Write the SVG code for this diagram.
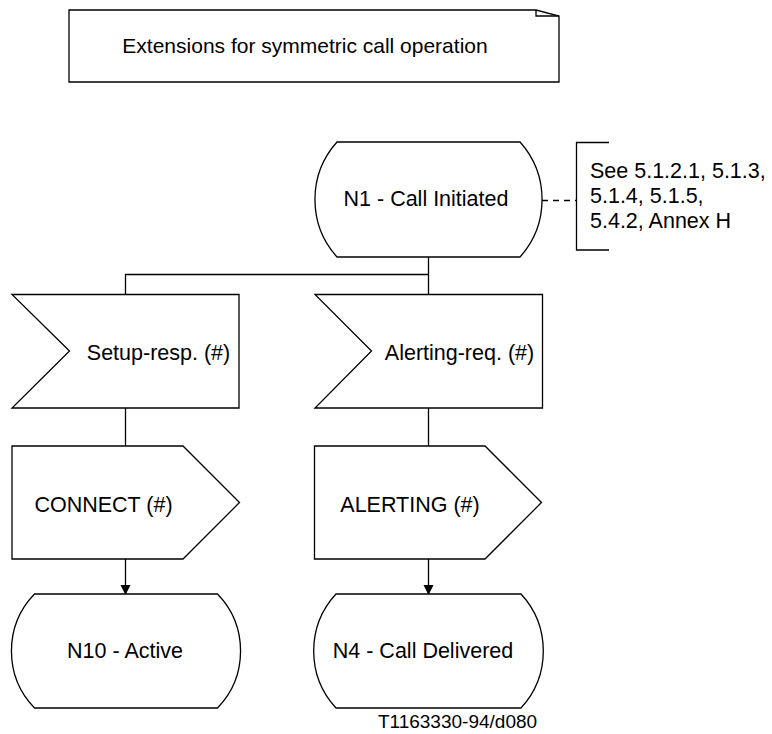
<svg xmlns="http://www.w3.org/2000/svg" width="772" height="734" viewBox="0 0 772 734">
<style>
.s{fill:#fff;stroke:#000;stroke-width:1.3}
.t{font-family:"Liberation Sans",Arial,sans-serif;font-size:21.5px;fill:#000}
.m{text-anchor:middle}
.c{fill:none;stroke:#000;stroke-width:1.3}
</style>
<defs>
<marker id="ah" markerWidth="10" markerHeight="11" refX="9" refY="5" orient="auto" markerUnits="userSpaceOnUse">
<path d="M0,0 L10,5 L0,10 Z" fill="#000"/>
</marker>
</defs>
<rect width="772" height="734" fill="#fff"/>
<g id="title">
<path class="s" d="M69,10 H536 L559,16 V82 H69 Z"/>
<path class="c" d="M536,10 V16 H559"/>
<text class="t m" x="305" y="52.5" style="font-size:21px">Extensions for symmetric call operation</text>
</g>
<g id="connectors">
<path class="c" d="M428.5,257 V294"/>
<path class="c" d="M125.5,294 V274.5 H428.5"/>
<path class="c" d="M125.5,408 V446"/>
<path class="c" d="M428.5,408 V446"/>
<path class="c" d="M125.5,559 V594" marker-end="url(#ah)"/>
<path class="c" d="M428.5,559 V594" marker-end="url(#ah)"/>
<path class="c" d="M542,200.5 H576.5" stroke-dasharray="6,5"/>
</g>
<g id="n1">
<path class="s" d="M337,142 H520 A86,86 0 0 1 520,257 H337 A86,86 0 0 1 337,142 Z"/>
<text class="t m" x="426" y="206">N1 - Call Initiated</text>
</g>
<g id="comment">
<path class="c" d="M609,142.5 H576.5 V250 H609"/>
<text class="t" x="590" y="178">See 5.1.2.1, 5.1.3,</text>
<text class="t" x="590" y="203">5.1.4, 5.1.5,</text>
<text class="t" x="590" y="228">5.4.2, Annex H</text>
</g>
<g id="setup-resp">
<path class="s" d="M12,294.5 H239 V408 H12 L69.5,351 Z"/>
<text class="t m" x="158.5" y="359.5">Setup-resp. (#)</text>
</g>
<g id="alerting-req">
<path class="s" d="M315,294.5 H542.5 V408 H315 L371.5,351 Z"/>
<text class="t m" x="459.5" y="359.5">Alerting-req. (#)</text>
</g>
<g id="connect">
<path class="s" d="M12,446 H183 L239.5,502.5 L183,559 H12 Z"/>
<text class="t m" x="103.5" y="512">CONNECT (#)</text>
</g>
<g id="alerting">
<path class="s" d="M314.5,446 H485 L541.5,502.5 L485,559 H314.5 Z"/>
<text class="t m" x="410" y="512">ALERTING (#)</text>
</g>
<g id="n10">
<path class="s" d="M34.5,594 H217.5 A82,82 0 0 1 217.5,708 H34.5 A82,82 0 0 1 34.5,594 Z"/>
<text class="t m" x="125" y="657.5">N10 - Active</text>
</g>
<g id="n4">
<path class="s" d="M336,594 H521 A84,84 0 0 1 521,708 H336 A84,84 0 0 1 336,594 Z"/>
<text class="t m" x="423" y="657.5">N4 - Call Delivered</text>
</g>
<text class="t m" x="457.5" y="728" style="font-size:19px">T1163330-94/d080</text>
</svg>
